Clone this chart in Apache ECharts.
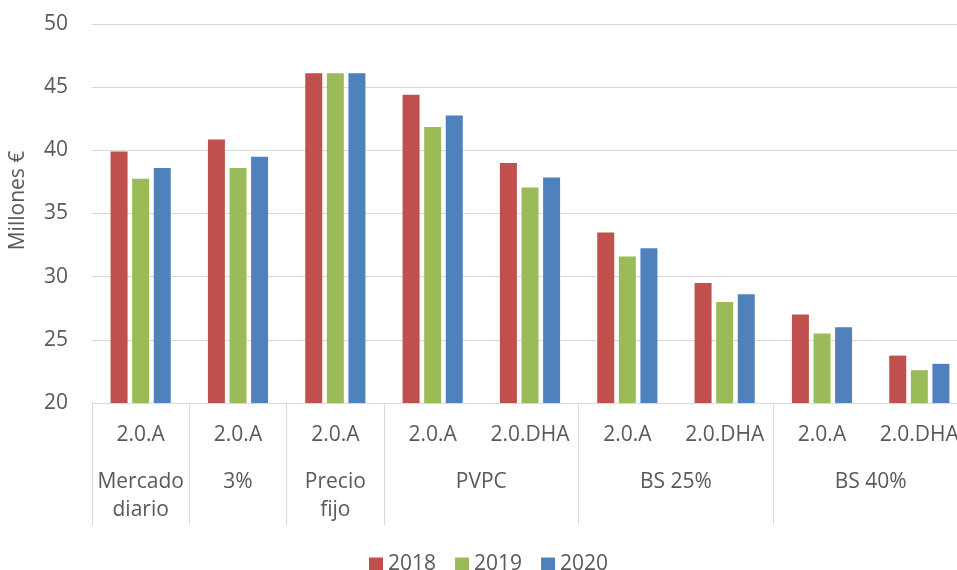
<!DOCTYPE html>
<html>
<head>
<meta charset="utf-8">
<script src="https://cdn.jsdelivr.net/npm/echarts@6/dist/echarts.min.js"></script>
<style>
  html, body { margin: 0; padding: 0; background: #ffffff; }
  #chart { width: 957px; height: 570px; }
</style>
</head>
<body>
<div id="chart"></div>
<script>
// Tariff per category (first axis level) and the group each belongs to
const tariffs = ['2.0.A', '2.0.A', '2.0.A', '2.0.A', '2.0.DHA', '2.0.A', '2.0.DHA', '2.0.A', '2.0.DHA'];
const groups = ['Mercado\ndiario', '3%', 'Precio\nfijo', 'PVPC', 'BS 25%', 'BS 40%'];
const groupCenters = [0.5, 1.5, 2.5, 4, 6, 8];
const groupEdges = [0, 1, 2, 3, 5, 7, 9];

const years = ['2018', '2019', '2020'];
const values2018 = [39.9, 40.85, 46.1, 44.4, 39.0, 33.5, 29.5, 27.0, 23.75];
const values2019 = [37.75, 38.6, 46.1, 41.85, 37.05, 31.6, 28.0, 25.5, 22.6];
const values2020 = [38.6, 39.5, 46.1, 42.75, 37.85, 32.25, 28.6, 26.0, 23.1];

const yTicks = { min: 20, max: 50, step: 5 };

const colors = ['#C0504D', '#9BBB59', '#4F81BD'];
const font = '"Open Sans", Lato, sans-serif';
const fontSize = 21;
const textColor = '#595959';
const lineColor = '#d9d9d9';

const chart = echarts.init(document.getElementById('chart'), null, { renderer: 'canvas' });

const seriesValues = [values2018, values2019, values2020];

chart.setOption({
  animation: false,
  color: colors,
  textStyle: { fontFamily: font },
  // the plot runs a little past the right edge, so the last label is cut off
  grid: { left: 92, width: 876, top: 24, bottom: 167, containLabel: false, outerBoundsMode: 'none' },
  legend: {
    data: years,
    left: 364,
    top: 549,
    itemWidth: 14,
    itemHeight: 14,
    itemGap: 19,
    icon: 'rect',
    textStyle: { fontFamily: font, fontSize: fontSize, color: textColor }
  },
  xAxis: [
    {
      type: 'category',
      data: tariffs,
      axisLine: { show: true, lineStyle: { color: lineColor, width: 1 } },
      axisTick: { show: false },
      axisLabel: {
        interval: 0,
        fontFamily: font,
        fontSize: fontSize,
        color: textColor,
        verticalAlign: 'top',
        lineHeight: 28,
        margin: 18
      }
    },
    {
      type: 'value',
      min: 0,
      max: 9,
      position: 'bottom',
      axisLine: { show: false },
      splitLine: { show: false },
      axisTick: {
        show: true,
        customValues: groupEdges,
        length: 122,
        lineStyle: { color: lineColor, width: 1 }
      },
      axisLabel: {
        customValues: groupCenters,
        formatter: function (v) {
          const i = groupCenters.indexOf(v);
          return i >= 0 ? groups[i] : '';
        },
        fontFamily: font,
        fontSize: fontSize,
        color: textColor,
        verticalAlign: 'top',
        lineHeight: 28,
        margin: 65
      }
    }
  ],
  yAxis: {
    type: 'value',
    min: yTicks.min,
    max: yTicks.max,
    interval: yTicks.step,
    name: 'Millones €',
    nameLocation: 'middle',
    nameGap: 63,
    nameTextStyle: { fontFamily: font, fontSize: fontSize, color: textColor, padding: [0, 0, 0, 26] },
    axisLine: { show: false },
    axisTick: { show: false },
    axisLabel: { fontFamily: font, fontSize: fontSize, color: textColor, margin: 24 },
    splitLine: { lineStyle: { color: lineColor, width: 1 } }
  },
  series: years.map((y, i) => ({
    name: y,
    type: 'bar',
    xAxisIndex: 0,
    data: seriesValues[i],
    barWidth: 17,
    barGap: '27%',
    itemStyle: { color: colors[i] }
  }))
});
</script>
</body>
</html>
